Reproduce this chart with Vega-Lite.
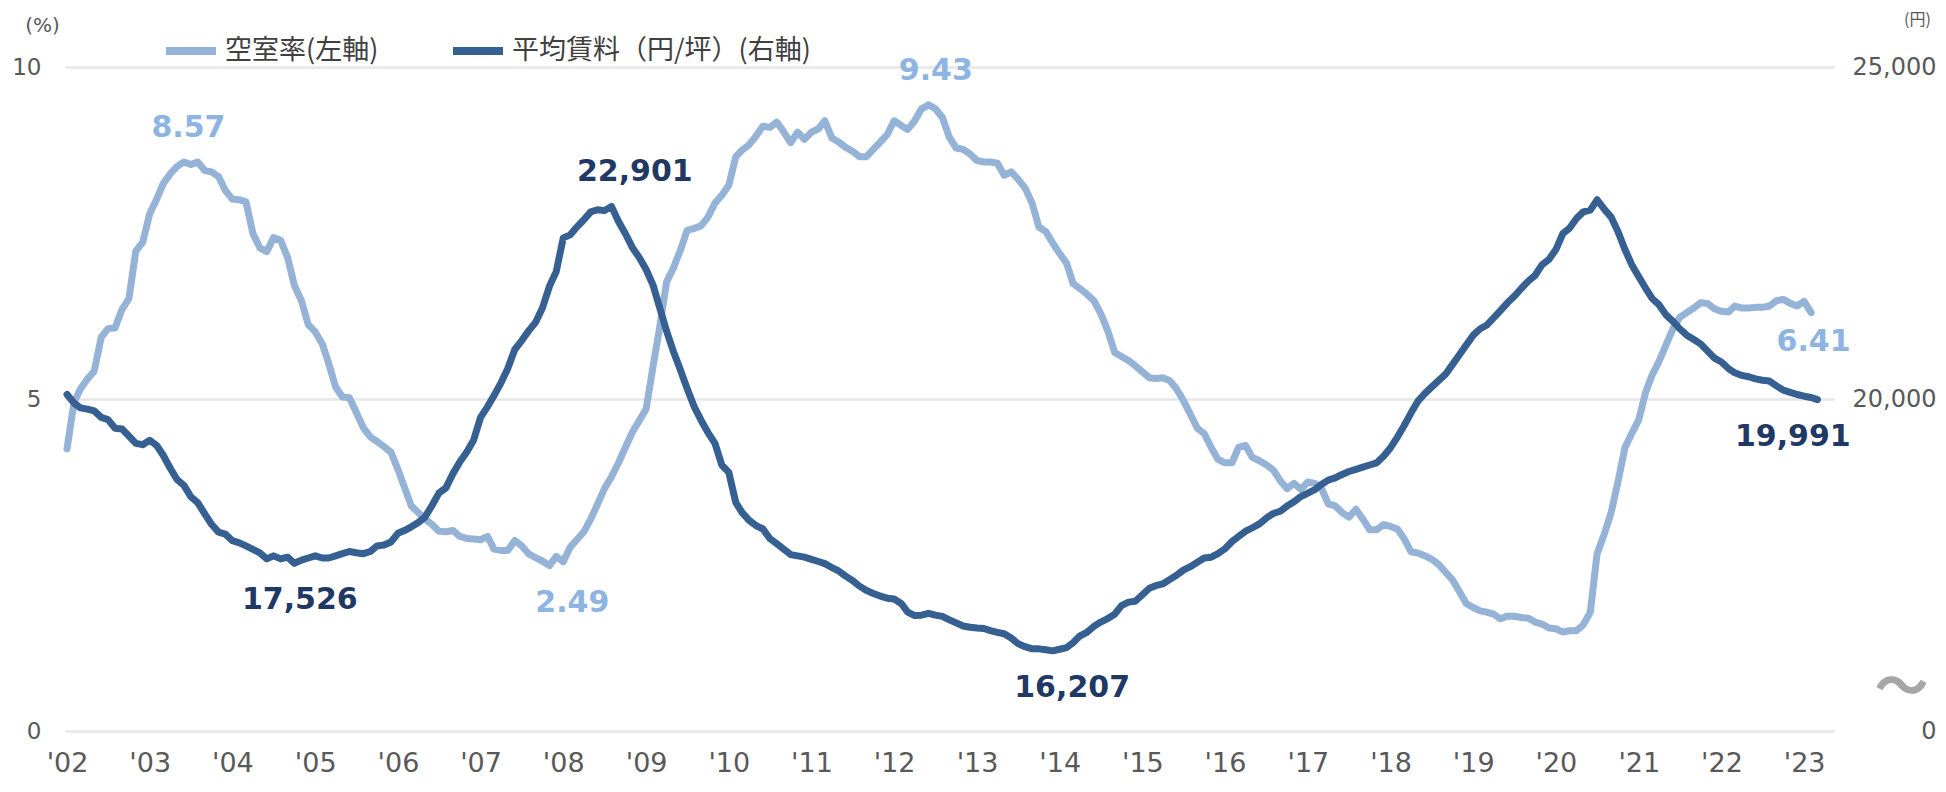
{
  "$schema": "https://vega.github.io/schema/vega-lite/v6.json",
  "width": 1769,
  "height": 664,
  "autosize": {"type": "none"},
  "padding": {"left": 65, "top": 67, "right": 112, "bottom": 61},
  "background": "white",
  "config": {"view": {"stroke": null}, "font": "DejaVu Sans"},
  "datasets": {
    "vacancy": [
      {"date":"2002-01","value":4.25},{"date":"2002-02","value":4.95},{"date":"2002-03","value":5.15},{"date":"2002-04","value":5.30},{"date":"2002-05","value":5.42},{"date":"2002-06","value":5.93},{"date":"2002-07","value":6.06},{"date":"2002-08","value":6.07},{"date":"2002-09","value":6.35},{"date":"2002-10","value":6.51},{"date":"2002-11","value":7.23},{"date":"2002-12","value":7.36},
      {"date":"2003-01","value":7.79},{"date":"2003-02","value":8.01},{"date":"2003-03","value":8.24},{"date":"2003-04","value":8.39},{"date":"2003-05","value":8.50},{"date":"2003-06","value":8.57},{"date":"2003-07","value":8.53},{"date":"2003-08","value":8.57},{"date":"2003-09","value":8.44},{"date":"2003-10","value":8.42},{"date":"2003-11","value":8.35},{"date":"2003-12","value":8.14},
      {"date":"2004-01","value":8.01},{"date":"2004-02","value":8.00},{"date":"2004-03","value":7.97},{"date":"2004-04","value":7.49},{"date":"2004-05","value":7.28},{"date":"2004-06","value":7.22},{"date":"2004-07","value":7.43},{"date":"2004-08","value":7.39},{"date":"2004-09","value":7.13},{"date":"2004-10","value":6.71},{"date":"2004-11","value":6.48},{"date":"2004-12","value":6.12},
      {"date":"2005-01","value":6.01},{"date":"2005-02","value":5.83},{"date":"2005-03","value":5.54},{"date":"2005-04","value":5.18},{"date":"2005-05","value":5.03},{"date":"2005-06","value":5.02},{"date":"2005-07","value":4.80},{"date":"2005-08","value":4.57},{"date":"2005-09","value":4.43},{"date":"2005-10","value":4.36},{"date":"2005-11","value":4.28},{"date":"2005-12","value":4.20},
      {"date":"2006-01","value":3.94},{"date":"2006-02","value":3.65},{"date":"2006-03","value":3.39},{"date":"2006-04","value":3.29},{"date":"2006-05","value":3.19},{"date":"2006-06","value":3.11},{"date":"2006-07","value":3.01},{"date":"2006-08","value":3.00},{"date":"2006-09","value":3.02},{"date":"2006-10","value":2.93},{"date":"2006-11","value":2.90},{"date":"2006-12","value":2.89},
      {"date":"2007-01","value":2.88},{"date":"2007-02","value":2.93},{"date":"2007-03","value":2.74},{"date":"2007-04","value":2.72},{"date":"2007-05","value":2.72},{"date":"2007-06","value":2.87},{"date":"2007-07","value":2.79},{"date":"2007-08","value":2.67},{"date":"2007-09","value":2.61},{"date":"2007-10","value":2.56},{"date":"2007-11","value":2.49},{"date":"2007-12","value":2.63},
      {"date":"2008-01","value":2.55},{"date":"2008-02","value":2.77},{"date":"2008-03","value":2.88},{"date":"2008-04","value":3.00},{"date":"2008-05","value":3.19},{"date":"2008-06","value":3.42},{"date":"2008-07","value":3.65},{"date":"2008-08","value":3.83},{"date":"2008-09","value":4.04},{"date":"2008-10","value":4.27},{"date":"2008-11","value":4.50},{"date":"2008-12","value":4.67},
      {"date":"2009-01","value":4.85},{"date":"2009-02","value":5.50},{"date":"2009-03","value":6.06},{"date":"2009-04","value":6.76},{"date":"2009-05","value":6.97},{"date":"2009-06","value":7.24},{"date":"2009-07","value":7.54},{"date":"2009-08","value":7.57},{"date":"2009-09","value":7.61},{"date":"2009-10","value":7.74},{"date":"2009-11","value":7.95},{"date":"2009-12","value":8.07},
      {"date":"2010-01","value":8.22},{"date":"2010-02","value":8.65},{"date":"2010-03","value":8.75},{"date":"2010-04","value":8.83},{"date":"2010-05","value":8.96},{"date":"2010-06","value":9.11},{"date":"2010-07","value":9.09},{"date":"2010-08","value":9.17},{"date":"2010-09","value":9.02},{"date":"2010-10","value":8.86},{"date":"2010-11","value":9.02},{"date":"2010-12","value":8.91},
      {"date":"2011-01","value":9.02},{"date":"2011-02","value":9.07},{"date":"2011-03","value":9.19},{"date":"2011-04","value":8.93},{"date":"2011-05","value":8.87},{"date":"2011-06","value":8.79},{"date":"2011-07","value":8.73},{"date":"2011-08","value":8.65},{"date":"2011-09","value":8.65},{"date":"2011-10","value":8.76},{"date":"2011-11","value":8.87},{"date":"2011-12","value":8.98},
      {"date":"2012-01","value":9.19},{"date":"2012-02","value":9.12},{"date":"2012-03","value":9.06},{"date":"2012-04","value":9.19},{"date":"2012-05","value":9.37},{"date":"2012-06","value":9.43},{"date":"2012-07","value":9.37},{"date":"2012-08","value":9.24},{"date":"2012-09","value":8.94},{"date":"2012-10","value":8.78},{"date":"2012-11","value":8.76},{"date":"2012-12","value":8.69},
      {"date":"2013-01","value":8.59},{"date":"2013-02","value":8.57},{"date":"2013-03","value":8.57},{"date":"2013-04","value":8.55},{"date":"2013-05","value":8.37},{"date":"2013-06","value":8.42},{"date":"2013-07","value":8.31},{"date":"2013-08","value":8.18},{"date":"2013-09","value":7.95},{"date":"2013-10","value":7.59},{"date":"2013-11","value":7.52},{"date":"2013-12","value":7.35},
      {"date":"2014-01","value":7.19},{"date":"2014-02","value":7.04},{"date":"2014-03","value":6.74},{"date":"2014-04","value":6.66},{"date":"2014-05","value":6.58},{"date":"2014-06","value":6.48},{"date":"2014-07","value":6.29},{"date":"2014-08","value":6.03},{"date":"2014-09","value":5.70},{"date":"2014-10","value":5.64},{"date":"2014-11","value":5.58},{"date":"2014-12","value":5.50},
      {"date":"2015-01","value":5.41},{"date":"2015-02","value":5.32},{"date":"2015-03","value":5.31},{"date":"2015-04","value":5.32},{"date":"2015-05","value":5.28},{"date":"2015-06","value":5.15},{"date":"2015-07","value":4.98},{"date":"2015-08","value":4.77},{"date":"2015-09","value":4.56},{"date":"2015-10","value":4.48},{"date":"2015-11","value":4.27},{"date":"2015-12","value":4.09},
      {"date":"2016-01","value":4.04},{"date":"2016-02","value":4.04},{"date":"2016-03","value":4.27},{"date":"2016-04","value":4.30},{"date":"2016-05","value":4.12},{"date":"2016-06","value":4.07},{"date":"2016-07","value":4.01},{"date":"2016-08","value":3.93},{"date":"2016-09","value":3.77},{"date":"2016-10","value":3.65},{"date":"2016-11","value":3.73},{"date":"2016-12","value":3.64},
      {"date":"2017-01","value":3.75},{"date":"2017-02","value":3.73},{"date":"2017-03","value":3.66},{"date":"2017-04","value":3.42},{"date":"2017-05","value":3.39},{"date":"2017-06","value":3.29},{"date":"2017-07","value":3.22},{"date":"2017-08","value":3.34},{"date":"2017-09","value":3.19},{"date":"2017-10","value":3.03},{"date":"2017-11","value":3.03},{"date":"2017-12","value":3.11},
      {"date":"2018-01","value":3.08},{"date":"2018-02","value":3.04},{"date":"2018-03","value":2.90},{"date":"2018-04","value":2.70},{"date":"2018-05","value":2.68},{"date":"2018-06","value":2.64},{"date":"2018-07","value":2.59},{"date":"2018-08","value":2.51},{"date":"2018-09","value":2.39},{"date":"2018-10","value":2.28},{"date":"2018-11","value":2.10},{"date":"2018-12","value":1.92},
      {"date":"2019-01","value":1.86},{"date":"2019-02","value":1.81},{"date":"2019-03","value":1.79},{"date":"2019-04","value":1.76},{"date":"2019-05","value":1.69},{"date":"2019-06","value":1.73},{"date":"2019-07","value":1.73},{"date":"2019-08","value":1.71},{"date":"2019-09","value":1.70},{"date":"2019-10","value":1.64},{"date":"2019-11","value":1.61},{"date":"2019-12","value":1.55},
      {"date":"2020-01","value":1.54},{"date":"2020-02","value":1.49},{"date":"2020-03","value":1.51},{"date":"2020-04","value":1.51},{"date":"2020-05","value":1.60},{"date":"2020-06","value":1.79},{"date":"2020-07","value":2.67},{"date":"2020-08","value":2.96},{"date":"2020-09","value":3.29},{"date":"2020-10","value":3.75},{"date":"2020-11","value":4.27},{"date":"2020-12","value":4.48},
      {"date":"2021-01","value":4.69},{"date":"2021-02","value":5.11},{"date":"2021-03","value":5.36},{"date":"2021-04","value":5.57},{"date":"2021-05","value":5.81},{"date":"2021-06","value":6.06},{"date":"2021-07","value":6.23},{"date":"2021-08","value":6.30},{"date":"2021-09","value":6.37},{"date":"2021-10","value":6.45},{"date":"2021-11","value":6.44},{"date":"2021-12","value":6.36},
      {"date":"2022-01","value":6.32},{"date":"2022-02","value":6.31},{"date":"2022-03","value":6.40},{"date":"2022-04","value":6.37},{"date":"2022-05","value":6.37},{"date":"2022-06","value":6.38},{"date":"2022-07","value":6.38},{"date":"2022-08","value":6.40},{"date":"2022-09","value":6.48},{"date":"2022-10","value":6.50},{"date":"2022-11","value":6.44},{"date":"2022-12","value":6.40},
      {"date":"2023-01","value":6.47},{"date":"2023-02","value":6.30}
    ],
    "rent": [
      {"date":"2002-01","value":20068},{"date":"2002-02","value":19938},{"date":"2002-03","value":19866},{"date":"2002-04","value":19847},{"date":"2002-05","value":19820},{"date":"2002-06","value":19723},{"date":"2002-07","value":19690},{"date":"2002-08","value":19560},{"date":"2002-09","value":19547},{"date":"2002-10","value":19443},{"date":"2002-11","value":19332},{"date":"2002-12","value":19312},
      {"date":"2003-01","value":19378},{"date":"2003-02","value":19300},{"date":"2003-03","value":19156},{"date":"2003-04","value":18961},{"date":"2003-05","value":18791},{"date":"2003-06","value":18700},{"date":"2003-07","value":18531},{"date":"2003-08","value":18440},{"date":"2003-09","value":18270},{"date":"2003-10","value":18114},{"date":"2003-11","value":17996},{"date":"2003-12","value":17964},
      {"date":"2004-01","value":17866},{"date":"2004-02","value":17834},{"date":"2004-03","value":17788},{"date":"2004-04","value":17736},{"date":"2004-05","value":17684},{"date":"2004-06","value":17592},{"date":"2004-07","value":17638},{"date":"2004-08","value":17592},{"date":"2004-09","value":17618},{"date":"2004-10","value":17526},{"date":"2004-11","value":17573},{"date":"2004-12","value":17605},
      {"date":"2005-01","value":17638},{"date":"2005-02","value":17605},{"date":"2005-03","value":17605},{"date":"2005-04","value":17638},{"date":"2005-05","value":17670},{"date":"2005-06","value":17703},{"date":"2005-07","value":17684},{"date":"2005-08","value":17670},{"date":"2005-09","value":17703},{"date":"2005-10","value":17788},{"date":"2005-11","value":17801},{"date":"2005-12","value":17846},
      {"date":"2006-01","value":17977},{"date":"2006-02","value":18022},{"date":"2006-03","value":18075},{"date":"2006-04","value":18140},{"date":"2006-05","value":18224},{"date":"2006-06","value":18400},{"date":"2006-07","value":18583},{"date":"2006-08","value":18661},{"date":"2006-09","value":18876},{"date":"2006-10","value":19052},{"date":"2006-11","value":19202},{"date":"2006-12","value":19378},
      {"date":"2007-01","value":19723},{"date":"2007-02","value":19886},{"date":"2007-03","value":20049},{"date":"2007-04","value":20244},{"date":"2007-05","value":20459},{"date":"2007-06","value":20746},{"date":"2007-07","value":20876},{"date":"2007-08","value":21026},{"date":"2007-09","value":21156},{"date":"2007-10","value":21371},{"date":"2007-11","value":21697},{"date":"2007-12","value":21918},
      {"date":"2008-01","value":22427},{"date":"2008-02","value":22472},{"date":"2008-03","value":22589},{"date":"2008-04","value":22700},{"date":"2008-05","value":22818},{"date":"2008-06","value":22850},{"date":"2008-07","value":22837},{"date":"2008-08","value":22901},{"date":"2008-09","value":22674},{"date":"2008-10","value":22492},{"date":"2008-11","value":22283},{"date":"2008-12","value":22133},
      {"date":"2009-01","value":21950},{"date":"2009-02","value":21710},{"date":"2009-03","value":21384},{"date":"2009-04","value":21026},{"date":"2009-05","value":20720},{"date":"2009-06","value":20440},{"date":"2009-07","value":20159},{"date":"2009-08","value":19886},{"date":"2009-09","value":19677},{"date":"2009-10","value":19495},{"date":"2009-11","value":19332},{"date":"2009-12","value":19006},
      {"date":"2010-01","value":18895},{"date":"2010-02","value":18439},{"date":"2010-03","value":18289},{"date":"2010-04","value":18172},{"date":"2010-05","value":18094},{"date":"2010-06","value":18042},{"date":"2010-07","value":17899},{"date":"2010-08","value":17820},{"date":"2010-09","value":17736},{"date":"2010-10","value":17657},{"date":"2010-11","value":17638},{"date":"2010-12","value":17618},
      {"date":"2011-01","value":17586},{"date":"2011-02","value":17553},{"date":"2011-03","value":17520},{"date":"2011-04","value":17462},{"date":"2011-05","value":17410},{"date":"2011-06","value":17332},{"date":"2011-07","value":17267},{"date":"2011-08","value":17182},{"date":"2011-09","value":17117},{"date":"2011-10","value":17071},{"date":"2011-11","value":17032},{"date":"2011-12","value":17000},
      {"date":"2012-01","value":16987},{"date":"2012-02","value":16921},{"date":"2012-03","value":16791},{"date":"2012-04","value":16739},{"date":"2012-05","value":16745},{"date":"2012-06","value":16772},{"date":"2012-07","value":16745},{"date":"2012-08","value":16726},{"date":"2012-09","value":16674},{"date":"2012-10","value":16628},{"date":"2012-11","value":16582},{"date":"2012-12","value":16563},
      {"date":"2013-01","value":16550},{"date":"2013-02","value":16543},{"date":"2013-03","value":16511},{"date":"2013-04","value":16485},{"date":"2013-05","value":16465},{"date":"2013-06","value":16400},{"date":"2013-07","value":16316},{"date":"2013-08","value":16270},{"date":"2013-09","value":16237},{"date":"2013-10","value":16237},{"date":"2013-11","value":16224},{"date":"2013-12","value":16207},
      {"date":"2014-01","value":16231},{"date":"2014-02","value":16257},{"date":"2014-03","value":16329},{"date":"2014-04","value":16433},{"date":"2014-05","value":16485},{"date":"2014-06","value":16576},{"date":"2014-07","value":16641},{"date":"2014-08","value":16694},{"date":"2014-09","value":16759},{"date":"2014-10","value":16889},{"date":"2014-11","value":16941},{"date":"2014-12","value":16954},
      {"date":"2015-01","value":17052},{"date":"2015-02","value":17150},{"date":"2015-03","value":17189},{"date":"2015-04","value":17215},{"date":"2015-05","value":17280},{"date":"2015-06","value":17345},{"date":"2015-07","value":17423},{"date":"2015-08","value":17475},{"date":"2015-09","value":17540},{"date":"2015-10","value":17605},{"date":"2015-11","value":17618},{"date":"2015-12","value":17670},
      {"date":"2016-01","value":17745},{"date":"2016-02","value":17853},{"date":"2016-03","value":17931},{"date":"2016-04","value":18009},{"date":"2016-05","value":18061},{"date":"2016-06","value":18120},{"date":"2016-07","value":18205},{"date":"2016-08","value":18276},{"date":"2016-09","value":18309},{"date":"2016-10","value":18387},{"date":"2016-11","value":18452},{"date":"2016-12","value":18531},
      {"date":"2017-01","value":18583},{"date":"2017-02","value":18635},{"date":"2017-03","value":18713},{"date":"2017-04","value":18778},{"date":"2017-05","value":18811},{"date":"2017-06","value":18863},{"date":"2017-07","value":18908},{"date":"2017-08","value":18941},{"date":"2017-09","value":18974},{"date":"2017-10","value":19006},{"date":"2017-11","value":19039},{"date":"2017-12","value":19137},
      {"date":"2018-01","value":19267},{"date":"2018-02","value":19430},{"date":"2018-03","value":19593},{"date":"2018-04","value":19788},{"date":"2018-05","value":19964},{"date":"2018-06","value":20081},{"date":"2018-07","value":20179},{"date":"2018-08","value":20276},{"date":"2018-09","value":20374},{"date":"2018-10","value":20518},{"date":"2018-11","value":20668},{"date":"2018-12","value":20811},
      {"date":"2019-01","value":20961},{"date":"2019-02","value":21058},{"date":"2019-03","value":21110},{"date":"2019-04","value":21221},{"date":"2019-05","value":21332},{"date":"2019-06","value":21449},{"date":"2019-07","value":21547},{"date":"2019-08","value":21664},{"date":"2019-09","value":21775},{"date":"2019-10","value":21860},{"date":"2019-11","value":22023},{"date":"2019-12","value":22101},
      {"date":"2020-01","value":22251},{"date":"2020-02","value":22492},{"date":"2020-03","value":22570},{"date":"2020-04","value":22720},{"date":"2020-05","value":22818},{"date":"2020-06","value":22844},{"date":"2020-07","value":23000},{"date":"2020-08","value":22863},{"date":"2020-09","value":22739},{"date":"2020-10","value":22524},{"date":"2020-11","value":22251},{"date":"2020-12","value":22023},
      {"date":"2021-01","value":21840},{"date":"2021-02","value":21664},{"date":"2021-03","value":21514},{"date":"2021-04","value":21417},{"date":"2021-05","value":21267},{"date":"2021-06","value":21169},{"date":"2021-07","value":21058},{"date":"2021-08","value":20961},{"date":"2021-09","value":20896},{"date":"2021-10","value":20830},{"date":"2021-11","value":20720},{"date":"2021-12","value":20615},
      {"date":"2022-01","value":20557},{"date":"2022-02","value":20459},{"date":"2022-03","value":20394},{"date":"2022-04","value":20355},{"date":"2022-05","value":20335},{"date":"2022-06","value":20303},{"date":"2022-07","value":20283},{"date":"2022-08","value":20270},{"date":"2022-09","value":20198},{"date":"2022-10","value":20133},{"date":"2022-11","value":20101},{"date":"2022-12","value":20068},
      {"date":"2023-01","value":20042},{"date":"2023-02","value":20023},{"date":"2023-03","value":19991}
    ],
    "vacancyLabels": [
      {"date":"2003-06-21","value":8.57,"pos":"above"},
      {"date":"2012-07-03","value":9.43,"pos":"above"},
      {"date":"2008-02-10","value":2.49,"pos":"below"},
      {"date":"2023-02-12","value":6.41,"pos":"below"}
    ],
    "rentLabels": [
      {"date":"2004-10-25","value":17526,"pos":"below"},
      {"date":"2008-11-12","value":22901,"pos":"above"},
      {"date":"2014-02-25","value":16207,"pos":"below"},
      {"date":"2022-11-12","value":19991,"pos":"below"}
    ]
  },
  "layer": [
    {
      "encoding": {
        "x": {
          "field": "date", "type": "temporal",
          "scale": {"type": "utc", "domain": [{"year": 2001, "month": 12, "date": 23, "utc": true}, {"year": 2023, "month": 5, "date": 13, "utc": true}]},
          "axis": {
            "values": [{"year":2002,"utc":true},{"year":2003,"utc":true},{"year":2004,"utc":true},{"year":2005,"utc":true},{"year":2006,"utc":true},{"year":2007,"utc":true},{"year":2008,"utc":true},{"year":2009,"utc":true},{"year":2010,"utc":true},{"year":2011,"utc":true},{"year":2012,"utc":true},{"year":2013,"utc":true},{"year":2014,"utc":true},{"year":2015,"utc":true},{"year":2016,"utc":true},{"year":2017,"utc":true},{"year":2018,"utc":true},{"year":2019,"utc":true},{"year":2020,"utc":true},{"year":2021,"utc":true},{"year":2022,"utc":true},{"year":2023,"utc":true}],
            "labelExpr": "\"'\" + utcFormat(datum.value, '%y')",
            "grid": false, "domain": false, "ticks": false,
            "labelFontSize": 27, "labelColor": "#595959", "labelPadding": 19,
            "labelOverlap": false, "labelFlush": false,
            "title": "〜", "titleAngle": 0, "titleX": 1836, "titleY": -42,
            "titleAlign": "center", "titleBaseline": "middle",
            "titleFont": "Noto Sans CJK JP", "titleFontSize": 54, "titleFontWeight": "bold", "titleColor": "#a6a6a6"
          }
        },
        "y": {
          "field": "value", "type": "quantitative",
          "scale": {"domain": [0, 10], "nice": false, "zero": false},
          "axis": {
            "orient": "left", "values": [0, 5, 10],
            "grid": true, "gridColor": "#e6e6e6", "gridWidth": 2.5,
            "domain": false, "ticks": false,
            "labelFontSize": 23, "labelColor": "#595959", "labelPadding": 24,
            "title": "(%)", "titleAngle": 0, "titleX": -23, "titleY": -42,
            "titleAlign": "center", "titleBaseline": "middle",
            "titleFontSize": 20, "titleFontWeight": "normal", "titleColor": "#595959"
          }
        }
      },
      "layer": [
        {
          "data": {"name": "vacancy"},
          "mark": {"type": "line", "strokeWidth": 7, "strokeCap": "round", "strokeJoin": "round"},
          "encoding": {
            "color": {
              "datum": "空室率(左軸)", "type": "nominal",
              "scale": {"domain": ["空室率(左軸)", "平均賃料（円/坪）(右軸)"], "range": ["#95b3d7", "#376092"]},
              "legend": {
                "orient": "none", "legendX": 97, "legendY": -45, "direction": "horizontal",
                "title": null, "symbolType": "stroke", "symbolSize": 2500, "symbolStrokeWidth": 8,
                "labelFont": "Noto Sans CJK JP", "labelFontSize": 27, "labelColor": "#404040",
                "labelOffset": 5, "columnPadding": 58, "padding": 0, "labelLimit": 600
              }
            }
          }
        },
        {
          "data": {"name": "vacancyLabels"},
          "transform": [{"filter": "datum.pos == 'above'"}],
          "mark": {"type": "text", "dy": -34, "fontSize": 30, "fontWeight": "bold", "color": "#8db4e2"},
          "encoding": {"text": {"field": "value", "type": "quantitative", "format": ".2f"}}
        },
        {
          "data": {"name": "vacancyLabels"},
          "transform": [{"filter": "datum.pos == 'below'"}],
          "mark": {"type": "text", "dy": 37, "fontSize": 30, "fontWeight": "bold", "color": "#8db4e2"},
          "encoding": {"text": {"field": "value", "type": "quantitative", "format": ".2f"}}
        }
      ]
    },
    {
      "encoding": {
        "x": {
          "field": "date", "type": "temporal",
          "scale": {"type": "utc", "domain": [{"year": 2001, "month": 12, "date": 23, "utc": true}, {"year": 2023, "month": 5, "date": 13, "utc": true}]},
          "axis": {
            "values": [{"year":2002,"utc":true},{"year":2003,"utc":true},{"year":2004,"utc":true},{"year":2005,"utc":true},{"year":2006,"utc":true},{"year":2007,"utc":true},{"year":2008,"utc":true},{"year":2009,"utc":true},{"year":2010,"utc":true},{"year":2011,"utc":true},{"year":2012,"utc":true},{"year":2013,"utc":true},{"year":2014,"utc":true},{"year":2015,"utc":true},{"year":2016,"utc":true},{"year":2017,"utc":true},{"year":2018,"utc":true},{"year":2019,"utc":true},{"year":2020,"utc":true},{"year":2021,"utc":true},{"year":2022,"utc":true},{"year":2023,"utc":true}],
            "labelExpr": "\"'\" + utcFormat(datum.value, '%y')",
            "grid": false, "domain": false, "ticks": false,
            "labelFontSize": 27, "labelColor": "#595959", "labelPadding": 19,
            "labelOverlap": false, "labelFlush": false,
            "title": "〜", "titleAngle": 0, "titleX": 1836, "titleY": -42,
            "titleAlign": "center", "titleBaseline": "middle",
            "titleFont": "Noto Sans CJK JP", "titleFontSize": 54, "titleFontWeight": "bold", "titleColor": "#a6a6a6"
          }
        },
        "y": {
          "field": "value", "type": "quantitative",
          "scale": {"domain": [15000, 25000], "nice": false, "zero": false},
          "axis": {
            "orient": "right", "values": [15000, 20000, 25000],
            "labelExpr": "datum.value == 15000 ? '0' : format(datum.value, ',')",
            "grid": false, "domain": false, "ticks": false,
            "labelAlign": "right", "labelPadding": 102,
            "labelFontSize": 24, "labelColor": "#595959",
            "title": "(円)", "titleAngle": 0, "titleX": 83, "titleY": -48,
            "titleAlign": "center", "titleBaseline": "middle",
            "titleFont": "Noto Sans CJK JP", "titleFontSize": 16, "titleFontWeight": "normal", "titleColor": "#595959"
          }
        }
      },
      "layer": [
        {
          "data": {"name": "rent"},
          "mark": {"type": "line", "strokeWidth": 7, "strokeCap": "round", "strokeJoin": "round"},
          "encoding": {
            "color": {
              "datum": "平均賃料（円/坪）(右軸)", "type": "nominal",
              "scale": {"domain": ["空室率(左軸)", "平均賃料（円/坪）(右軸)"], "range": ["#95b3d7", "#376092"]},
              "legend": {
                "orient": "none", "legendX": 97, "legendY": -45, "direction": "horizontal",
                "title": null, "symbolType": "stroke", "symbolSize": 2500, "symbolStrokeWidth": 8,
                "labelFont": "Noto Sans CJK JP", "labelFontSize": 27, "labelColor": "#404040",
                "labelOffset": 5, "columnPadding": 58, "padding": 0, "labelLimit": 600
              }
            }
          }
        },
        {
          "data": {"name": "rentLabels"},
          "transform": [{"filter": "datum.pos == 'above'"}],
          "mark": {"type": "text", "dy": -34, "fontSize": 30, "fontWeight": "bold", "color": "#1f3864"},
          "encoding": {"text": {"field": "value", "type": "quantitative", "format": ","}}
        },
        {
          "data": {"name": "rentLabels"},
          "transform": [{"filter": "datum.pos == 'below'"}],
          "mark": {"type": "text", "dy": 37, "fontSize": 30, "fontWeight": "bold", "color": "#1f3864"},
          "encoding": {"text": {"field": "value", "type": "quantitative", "format": ","}}
        }
      ]
    }
  ],
  "resolve": {"scale": {"y": "independent"}, "axis": {"y": "independent"}}
}
